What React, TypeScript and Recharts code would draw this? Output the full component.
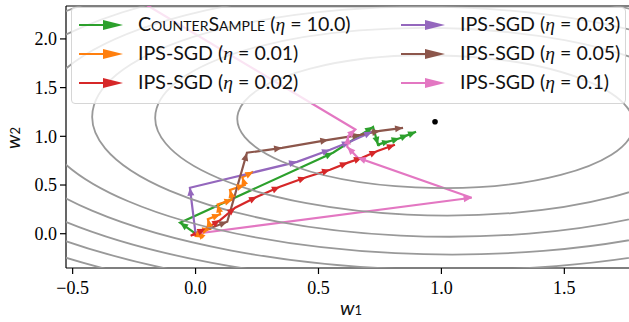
import { ComposedChart, Line, ReferenceLine, XAxis, YAxis } from "recharts";

const X_DOMAIN: [number, number] = [-0.527, 1.763];
const Y_DOMAIN: [number, number] = [-0.352, 2.338];
const xTicks = [-0.5, 0, 0.5, 1.0, 1.5];
const yTicks = [0, 0.5, 1.0, 1.5, 2.0];

// loss contours: centre, quadratic form (a, b, c) and levels
const contourCenter = [0.976, 1.15];
const contourForm = [0.715, 0.035, 1.0];
const contourLevels = [0.464, 0.928, 1.392, 1.856, 2.32, 2.784, 3.248, 3.712];

const optimum = [0.974, 1.149];

// trajectories (w1, w2)
const counterSample = [
  [0, 0], [-0.063, 0.113], [0.559, 0.831], [0.722, 1.097], [0.742, 0.913],
  [0.76, 0.93], [0.79, 0.95], [0.83, 0.98], [0.865, 1.015], [0.897, 1.046],
];
const ips001 = [
  [0, 0], [0.03, -0.04], [0.01, 0.02], [0.06, 0.05], [0.05, 0.15], [0.1, 0.2],
  [0.09, 0.3], [0.15, 0.35], [0.14, 0.45], [0.2, 0.5], [0.19, 0.58], [0.235, 0.636],
];
const ips002 = [
  [0, 0], [-0.02, -0.02], [0.04, 0.05], [0.1, 0.14], [0.161, 0.267], [0.25, 0.38],
  [0.343, 0.482], [0.45, 0.58], [0.547, 0.656], [0.62, 0.73], [0.677, 0.779],
  [0.74, 0.85], [0.811, 0.913],
];
const ips003 = [
  [0, 0], [-0.023, 0.472], [0.413, 0.738], [0.547, 0.862], [0.628, 0.944], [0.718, 1.046],
];
const ips005 = [
  [0, 0], [0.129, 0.123], [0.209, 0.831], [0.352, 0.882], [0.54, 0.964],
  [0.67, 1.015], [0.75, 1.056], [0.844, 1.087],
];
const ips01 = [
  [0, 0], [1.123, 0.369], [0.66, 0.78], [0.617, 0.892], [0.62, 1.0], [0.65, 1.07], [-0.3, 2.5],
];

const seriesNames = ["CounterSample", "IPS-SGD", "IPS-SGD", "IPS-SGD", "IPS-SGD", "IPS-SGD"];
const seriesEtas = ["10.0", "0.01", "0.02", "0.03", "0.05", "0.1"];
const seriesColors = ["#2ca02c", "#ff7f0e", "#d62728", "#9467bd", "#8c564b", "#e377c2"];
const seriesData = [counterSample, ips001, ips002, ips003, ips005, ips01];

const toPts = (arr: number[][]) => arr.map(([x, y]) => ({ x, y }));

const HEAD_LEN = 8;
const HEAD_W = 7;

function arrowDot(color: string) {
  return (props: any) => {
    const { cx, cy, index, points } = props;
    const k = `a-${index}`;
    if (!index || !points) return <g key={k} />;
    const prev = points[index - 1];
    const dx = cx - prev.x;
    const dy = cy - prev.y;
    const len = Math.hypot(dx, dy);
    if (len < 0.5) return <g key={k} />;
    const ux = dx / len;
    const uy = dy / len;
    const hl = Math.min(HEAD_LEN, len);
    const hw = (HEAD_W / 2) * (hl / HEAD_LEN);
    const bx = cx - ux * hl;
    const by = cy - uy * hl;
    const p = `${cx},${cy} ${bx - uy * hw},${by + ux * hw} ${bx + uy * hw},${by - ux * hw}`;
    return <polygon key={k} points={p} fill={color} />;
  };
}

// frame points: centre, unit steps on both axes, domain corners
const frameData = [
  { x: contourCenter[0], y: contourCenter[1] },
  { x: contourCenter[0] + 1, y: contourCenter[1] },
  { x: contourCenter[0], y: contourCenter[1] + 1 },
  { x: X_DOMAIN[0], y: Y_DOMAIN[1] },
  { x: X_DOMAIN[1], y: Y_DOMAIN[0] },
];

function ContourDot(props: any) {
  const { index, points } = props;
  if (index !== 0 || !points) return <g key={`c-${index}`} />;
  const [p0, p1, p2, tl, br] = points;
  const ex = [p1.x - p0.x, p1.y - p0.y];
  const ey = [p2.x - p0.x, p2.y - p0.y];
  const [a, b, c] = contourForm;
  const tr = (a + c) / 2;
  const disc = Math.sqrt(((a - c) / 2) ** 2 + b * b);
  const l1 = tr + disc;
  const l2 = tr - disc;
  const th = 0.5 * Math.atan2(2 * b, a - c);
  const v1 = [Math.cos(th), Math.sin(th)];
  const v2 = [-Math.sin(th), Math.cos(th)];
  return (
    <g key="contours">
      <defs>
        <clipPath id="plotClip">
          <rect x={tl.x} y={tl.y} width={br.x - tl.x} height={br.y - tl.y} />
        </clipPath>
      </defs>
      <g clipPath="url(#plotClip)">
        {contourLevels.map((lev) => {
          const r1 = Math.sqrt(lev / l1);
          const r2 = Math.sqrt(lev / l2);
          const d1 = [v1[0] * r1, v1[1] * r1];
          const d2 = [v2[0] * r2, v2[1] * r2];
          const m11 = ex[0] * d1[0] + ey[0] * d1[1];
          const m21 = ex[1] * d1[0] + ey[1] * d1[1];
          const m12 = ex[0] * d2[0] + ey[0] * d2[1];
          const m22 = ex[1] * d2[0] + ey[1] * d2[1];
          return (
            <circle
              key={lev}
              r={1}
              fill="none"
              stroke="#999999"
              strokeWidth={1.8}
              vectorEffect="non-scaling-stroke"
              transform={`matrix(${m11} ${m21} ${m12} ${m22} ${p0.x} ${p0.y})`}
            />
          );
        })}
      </g>
    </g>
  );
}

const fmt = (v: number) => (v < 0 ? "\u2212" : "") + Math.abs(v).toFixed(1);
const tickFont = { fontFamily: "'Liberation Serif', serif", fontSize: 18, fill: "#000" };

const legendPos = [
  [0, 0], [0, 1], [0, 2], [1, 0], [1, 1], [1, 2],
];

function LegendArrow({ color }: { color: string }) {
  return (
    <svg width={46} height={14} style={{ display: "block" }}>
      <line x1={1} y1={7} x2={28} y2={7} stroke={color} strokeWidth={2} />
      <polygon points="25,2 45,7 25,12" fill={color} />
    </svg>
  );
}

export default function App() {
  return (
    <div style={{ position: "absolute", left: 0, top: 0, width: 629, height: 322, overflow: "hidden", background: "#fff" }}>
      <ComposedChart width={629} height={322} margin={{ top: 6, right: 0, bottom: 0, left: 0 }}>
        <XAxis
          type="number"
          dataKey="x"
          domain={X_DOMAIN}
          ticks={xTicks}
          allowDataOverflow
          height={54}
          tickFormatter={fmt}
          tick={tickFont}
          tickSize={6}
          tickMargin={7}
          axisLine={{ stroke: "#000", strokeWidth: 1.2 }}
          tickLine={{ stroke: "#000", strokeWidth: 1.2 }}
        />
        <YAxis
          type="number"
          dataKey="y"
          domain={Y_DOMAIN}
          ticks={yTicks}
          allowDataOverflow
          width={66}
          tickFormatter={fmt}
          tick={tickFont}
          tickSize={6}
          tickMargin={3}
          axisLine={{ stroke: "#000", strokeWidth: 1.2 }}
          tickLine={{ stroke: "#000", strokeWidth: 1.2 }}
        />
        <ReferenceLine y={Y_DOMAIN[1]} stroke="#000" strokeWidth={1.2} />
        <Line
          data={frameData}
          dataKey="y"
          stroke="none"
          dot={ContourDot}
          activeDot={false}
          isAnimationActive={false}
        />
        {seriesData.map((arr, i) => (
          <Line
            key={i}
            data={toPts(arr)}
            dataKey="y"
            stroke={seriesColors[i]}
            strokeWidth={2.2}
            dot={arrowDot(seriesColors[i])}
            activeDot={false}
            isAnimationActive={false}
          />
        ))}
        <Line
          data={[{ x: optimum[0], y: optimum[1] }]}
          dataKey="y"
          stroke="none"
          dot={{ r: 2.8, fill: "#000", stroke: "none" }}
          activeDot={false}
          isAnimationActive={false}
        />
      </ComposedChart>

      <div
        style={{
          position: "absolute",
          left: 71,
          top: 7,
          width: 553,
          height: 95,
          background: "rgba(255,255,255,0.8)",
          border: "1px solid #d6d6d6",
          borderRadius: 4,
        }}
      />
      {seriesNames.map((name, i) => {
        const [col, row] = legendPos[i];
        const left = col === 0 ? 78 : 400;
        const top = 25 + row * 29;
        return (
          <div key={i} style={{ position: "absolute", left, top: top - 7, height: 14 }}>
            <LegendArrow color={seriesColors[i]} />
            <div
              style={{
                position: "absolute",
                left: 60,
                top: -7,
                whiteSpace: "nowrap",
                fontFamily: "Lato, sans-serif",
                fontSize: 19.6,
                lineHeight: "26px",
                color: "#111",
              }}
            >
              <span style={{ fontVariant: i === 0 ? "small-caps" : "normal" }}>{name}</span>
              {" ("}
              <span style={{ fontFamily: "'Liberation Serif', serif", fontStyle: "italic" }}>η</span>
              {" = " + seriesEtas[i] + ")"}
            </div>
          </div>
        );
      })}

      <div style={{ position: "absolute", left: 340, top: 295, fontFamily: "Lato, sans-serif", fontStyle: "italic", fontSize: 20, color: "#111" }}>
        w<span style={{ fontSize: 13, fontStyle: "normal" }}>1</span>
      </div>
      <div
        style={{
          position: "absolute",
          left: 0,
          top: 126,
          width: 24,
          transform: "rotate(-90deg)",
          transformOrigin: "center",
          fontFamily: "Lato, sans-serif",
          fontStyle: "italic",
          fontSize: 20,
          color: "#111",
          textAlign: "center",
        }}
      >
        w<span style={{ fontSize: 13, fontStyle: "normal" }}>2</span>
      </div>
    </div>
  );
}
